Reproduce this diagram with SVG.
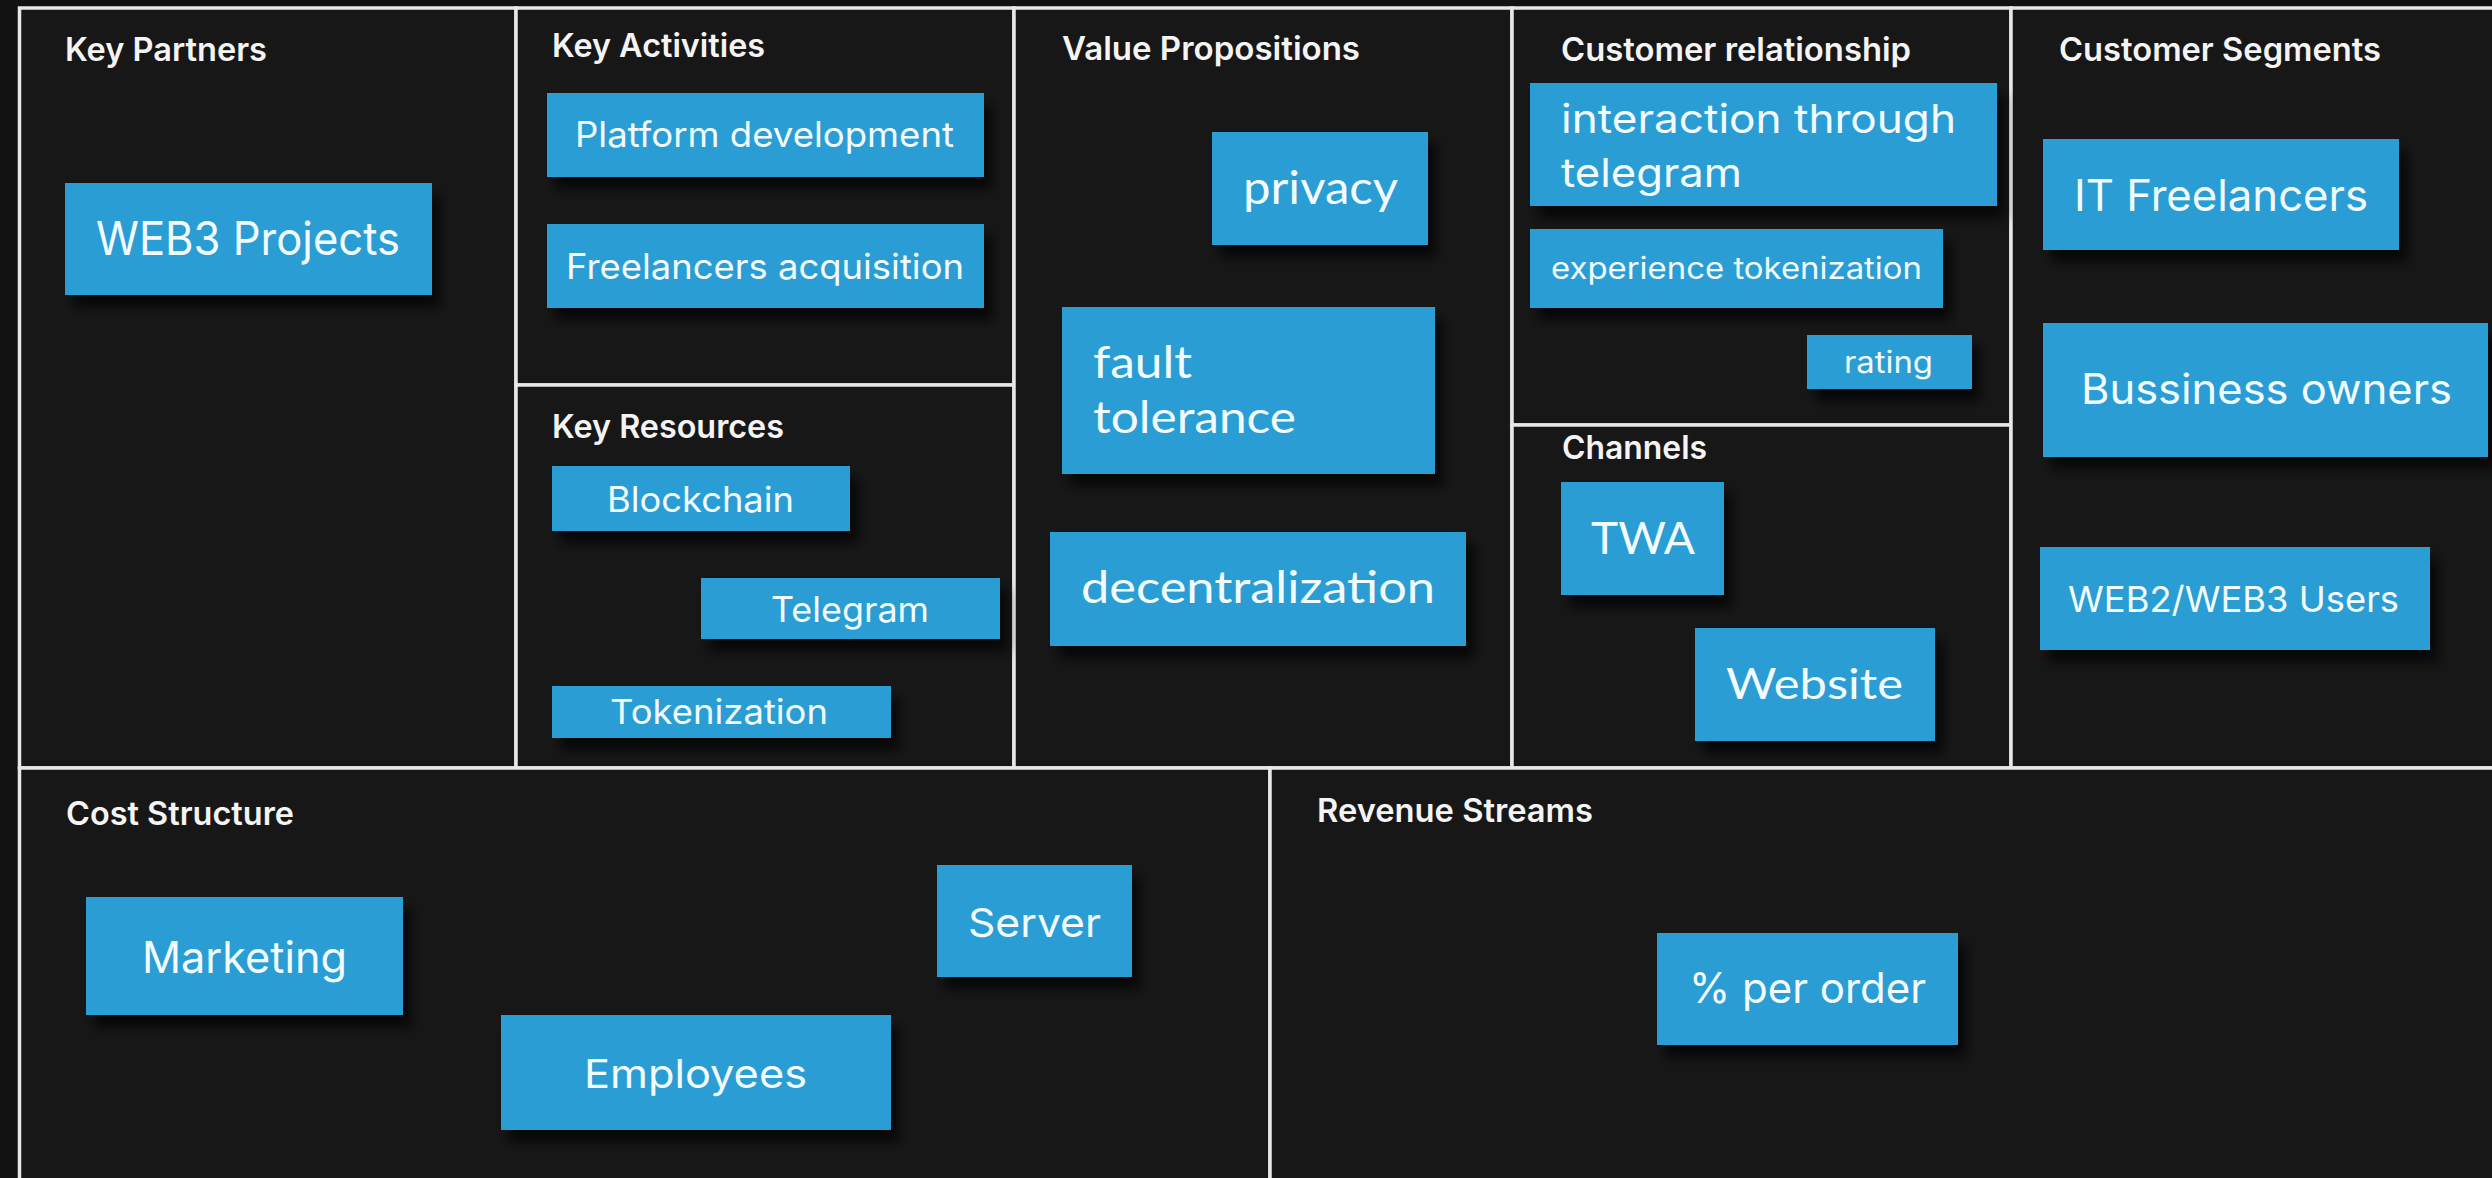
<svg xmlns="http://www.w3.org/2000/svg" width="2492" height="1178" viewBox="0 0 2492 1178">
<style>
.cell{fill:#171717;stroke:#e8e8e8;stroke-width:3.5}
.note{fill:#2b9ed4;filter:url(#sh)}
.hd{font-family:Inter,Roboto,"Liberation Sans",sans-serif;font-weight:600;font-size:32px;fill:#f4f4f4}
.t{font-family:Inter,Roboto,"Liberation Sans",sans-serif;font-weight:400;fill:#f2fbff}
.g{font-family:Lato,"Open Sans","Liberation Sans",sans-serif;font-weight:400;fill:#f2fbff}
</style>
<defs>
<filter id="sh" x="-20%" y="-20%" width="150%" height="160%">
<feDropShadow dx="8" dy="12" stdDeviation="6" flood-color="#000" flood-opacity="0.7"/>
</filter>
</defs>
<rect x="0" y="0" width="2492" height="1178" fill="#121212"/>
<g id="frame">
<rect class="cell" x="19.5" y="8" width="496.5" height="760"/>
<rect class="cell" x="516" y="8" width="498" height="377"/>
<rect class="cell" x="516" y="385" width="498" height="383"/>
<rect class="cell" x="1014" y="8" width="498" height="760"/>
<rect class="cell" x="1512" y="8" width="499" height="417"/>
<rect class="cell" x="1512" y="425" width="499" height="343"/>
<rect class="cell" x="2011" y="8" width="500" height="760"/>
<rect class="cell" x="19.5" y="768" width="1250.5" height="420"/>
<rect class="cell" x="1270" y="768" width="1240" height="420"/>
</g>
<g id="headers">
<text class="hd" x="65" y="61" textLength="202" lengthAdjust="spacingAndGlyphs">Key Partners</text>
<text class="hd" x="552" y="57" textLength="213" lengthAdjust="spacingAndGlyphs">Key Activities</text>
<text class="hd" x="552" y="438" textLength="232" lengthAdjust="spacingAndGlyphs">Key Resources</text>
<text class="hd" x="1062" y="60" textLength="298" lengthAdjust="spacingAndGlyphs">Value Propositions</text>
<text class="hd" x="1561" y="61" textLength="350" lengthAdjust="spacingAndGlyphs">Customer relationship</text>
<text class="hd" x="1562" y="459" textLength="145" lengthAdjust="spacingAndGlyphs">Channels</text>
<text class="hd" x="2059" y="61" textLength="322" lengthAdjust="spacingAndGlyphs">Customer Segments</text>
<text class="hd" x="66" y="825" textLength="228" lengthAdjust="spacingAndGlyphs">Cost Structure</text>
<text class="hd" x="1317" y="822" textLength="276" lengthAdjust="spacingAndGlyphs">Revenue Streams</text>
</g>
<g id="n-web3-projects"><rect class="note" x="65" y="183" width="367" height="112"/><text class="t" x="96" y="255" font-size="46" textLength="304" lengthAdjust="spacingAndGlyphs">WEB3 Projects</text></g>
<g id="n-platform-dev"><rect class="note" x="547" y="93" width="437" height="84"/><text class="t" x="575" y="147" font-size="35" textLength="379" lengthAdjust="spacingAndGlyphs">Platform development</text></g>
<g id="n-freelancers-acq"><rect class="note" x="547" y="224" width="437" height="84"/><text class="t" x="566" y="279" font-size="35" textLength="398" lengthAdjust="spacingAndGlyphs">Freelancers acquisition</text></g>
<g id="n-blockchain"><rect class="note" x="552" y="466" width="298" height="65"/><text class="t" x="607" y="512" font-size="35" textLength="187" lengthAdjust="spacingAndGlyphs">Blockchain</text></g>
<g id="n-telegram"><rect class="note" x="701" y="578" width="299" height="61"/><text class="t" x="771" y="622" font-size="35" textLength="158" lengthAdjust="spacingAndGlyphs">Telegram</text></g>
<g id="n-tokenization"><rect class="note" x="552" y="686" width="339" height="52"/><text class="t" x="610" y="724" font-size="34" textLength="218" lengthAdjust="spacingAndGlyphs">Tokenization</text></g>
<g id="n-privacy"><rect class="note" x="1212" y="132" width="216" height="113"/><text class="g" x="1243" y="204" font-size="46" textLength="155" lengthAdjust="spacingAndGlyphs">privacy</text></g>
<g id="n-fault-tolerance"><rect class="note" x="1062" y="307" width="373" height="167"/><text class="g" x="1093" y="378" font-size="44" textLength="99" lengthAdjust="spacingAndGlyphs">fault</text><text class="g" x="1093" y="433" font-size="44" textLength="203" lengthAdjust="spacingAndGlyphs">tolerance</text></g>
<g id="n-decentralization"><rect class="note" x="1050" y="532" width="416" height="114"/><text class="g" x="1081" y="603" font-size="44" textLength="354" lengthAdjust="spacingAndGlyphs">decentralization</text></g>
<g id="n-interaction"><rect class="note" x="1530" y="83" width="467" height="123"/><text class="t" x="1561" y="133" font-size="40" textLength="395" lengthAdjust="spacingAndGlyphs">interaction through</text><text class="t" x="1561" y="187" font-size="40" textLength="181" lengthAdjust="spacingAndGlyphs">telegram</text></g>
<g id="n-experience"><rect class="note" x="1530" y="229" width="413" height="79"/><text class="t" x="1551" y="279" font-size="30" textLength="371" lengthAdjust="spacingAndGlyphs">experience tokenization</text></g>
<g id="n-rating"><rect class="note" x="1807" y="335" width="165" height="54"/><text class="t" x="1844" y="373" font-size="30" textLength="89" lengthAdjust="spacingAndGlyphs">rating</text></g>
<g id="n-twa"><rect class="note" x="1561" y="482" width="163" height="113"/><text class="g" x="1591" y="554" font-size="44" textLength="104" lengthAdjust="spacingAndGlyphs">TWA</text></g>
<g id="n-website"><rect class="note" x="1695" y="628" width="240" height="113"/><text class="g" x="1726" y="699" font-size="43" textLength="177" lengthAdjust="spacingAndGlyphs">Website</text></g>
<g id="n-it-freelancers"><rect class="note" x="2043" y="139" width="356" height="111"/><text class="t" x="2074" y="211" font-size="44" textLength="294" lengthAdjust="spacingAndGlyphs">IT Freelancers</text></g>
<g id="n-business-owners"><rect class="note" x="2043" y="323" width="445" height="134"/><text class="t" x="2081" y="404" font-size="42" textLength="371" lengthAdjust="spacingAndGlyphs">Bussiness owners</text></g>
<g id="n-web2-web3-users"><rect class="note" x="2040" y="547" width="390" height="103"/><text class="t" x="2068" y="612" font-size="36" textLength="331" lengthAdjust="spacingAndGlyphs">WEB2/WEB3 Users</text></g>
<g id="n-marketing"><rect class="note" x="86" y="897" width="317" height="118"/><text class="t" x="142" y="973" font-size="44" textLength="205" lengthAdjust="spacingAndGlyphs">Marketing</text></g>
<g id="n-server"><rect class="note" x="937" y="865" width="195" height="112"/><text class="t" x="968" y="937" font-size="40" textLength="133" lengthAdjust="spacingAndGlyphs">Server</text></g>
<g id="n-employees"><rect class="note" x="501" y="1015" width="390" height="115"/><text class="t" x="584" y="1088" font-size="40" textLength="223" lengthAdjust="spacingAndGlyphs">Employees</text></g>
<g id="n-per-order"><rect class="note" x="1657" y="933" width="301" height="112"/><text class="t" x="1689" y="1003" font-size="42" textLength="237" lengthAdjust="spacingAndGlyphs">% per order</text></g>
</svg>
